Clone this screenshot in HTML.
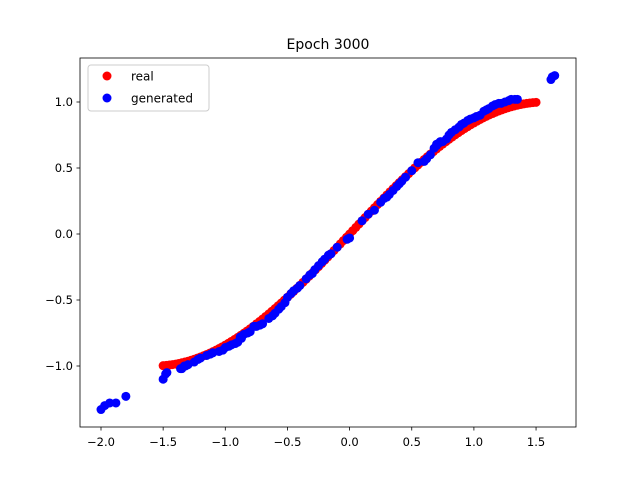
<!DOCTYPE html>
<html><head><meta charset="utf-8"><style>
body{margin:0;background:#fff}
svg text{font-family:"DejaVu Sans","Liberation Sans",sans-serif;fill:#000}
</style></head><body>
<svg id="chart" width="640" height="480">
<rect x="0" y="0" width="640" height="480" fill="#fff"/>
<text x="328" y="49" font-size="14" text-anchor="middle">Epoch 3000</text>
<g id="real"></g>
<g id="gen"></g>
<g id="axes"></g>
<rect x="80" y="58" width="496" height="369" fill="none" stroke="#000" stroke-width="0.8"/>
<g>
<rect x="88" y="65" width="121" height="46" rx="3" fill="#fff" fill-opacity="0.8" stroke="#ccc"/>
<circle cx="107" cy="76" r="4.5" fill="red"/>
<text x="131" y="80.5" font-size="12">real</text>
<circle cx="107" cy="98" r="4.5" fill="blue"/>
<text x="131" y="102.5" font-size="12">generated</text>
</g>
</svg>
<script>
const realX=[-1.5,-1.45,-1.4,-1.35,-1.3,-1.25,-1.2,-1.15,-1.1,-1.05,-1.0,-0.95,-0.9,-0.85,-0.8,-0.75,-0.7,-0.65,-0.6,-0.55,-0.5,-0.45,-0.4,-0.35,-0.3,-0.25,-0.2,-0.15,-0.1,-0.05,0,0.05,0.1,0.15,0.2,0.25,0.3,0.35,0.4,0.45,0.5,0.55,0.6,0.65,0.7,0.75,0.8,0.85,0.9,0.95,1.0,1.05,1.1,1.15,1.2,1.25,1.3,1.35,1.4,1.45,1.5,
0.025,0.075,0.125,0.175,0.225,0.275,0.325,0.375,0.425,0.475,0.525,0.575,0.625,0.675,0.725,0.775,0.825,0.875,0.925,0.975,1.025,1.075,1.125,1.175,1.225,1.275,1.325,1.375,1.425,1.475,
-0.025,-0.075,-0.125,-0.175,-0.225,-0.275,-0.325,-0.375,-0.425,-0.475,-0.525,-0.575,-0.625,-0.675,-0.725,-0.775,-0.825,-0.875,-0.925,-0.975,-1.025,-1.075,-1.125,-1.175,-1.225,-1.275,-1.325,-1.375,-1.425,-1.475];
const realY=[-0.9975,-0.9927,-0.9854,-0.9757,-0.9636,-0.949,-0.932,-0.9128,-0.8912,-0.8674,-0.8415,-0.8134,-0.7833,-0.7513,-0.7174,-0.6816,-0.6442,-0.6052,-0.5646,-0.5227,-0.4794,-0.435,-0.3894,-0.3429,-0.2955,-0.2474,-0.1987,-0.1494,-0.0998,-0.05,0,0.05,0.0998,0.1494,0.1987,0.2474,0.2955,0.3429,0.3894,0.435,0.4794,0.5227,0.5646,0.6052,0.6442,0.6816,0.7174,0.7513,0.7833,0.8134,0.8415,0.8674,0.8912,0.9128,0.932,0.949,0.9636,0.9757,0.9854,0.9927,0.9975,
0.025,0.0749,0.1247,0.1741,0.2231,0.2715,0.3193,0.3663,0.4123,0.4573,0.5012,0.5438,0.5851,0.6249,0.6632,0.6997,0.7344,0.7675,0.7985,0.8277,0.8549,0.8799,0.9028,0.9227,0.9408,0.9567,0.97,0.9809,0.9894,0.9955,
-0.025,-0.0749,-0.1247,-0.1741,-0.2231,-0.2715,-0.3193,-0.3663,-0.4123,-0.4573,-0.5012,-0.5438,-0.5851,-0.6249,-0.6632,-0.6997,-0.7344,-0.7675,-0.7985,-0.8277,-0.8549,-0.8799,-0.9028,-0.9227,-0.9408,-0.9567,-0.97,-0.9809,-0.9894,-0.9955];
const genX=[-2.0,-1.97,-1.93,-1.88,-1.8,-1.5,-1.48,-1.47,-1.35,-1.33,-1.3,-1.25,-1.2,-1.15,-1.1,-1.05,-1.0,-0.95,-0.9,-0.88,-0.85,-0.8,-0.77,-0.7,-0.65,-0.6,-0.55,-0.5,-0.45,-0.4,-0.35,-0.3,-0.28,-0.25,-0.2,-0.15,-0.1,-0.02,0.0,0.1,0.15,0.2,0.25,0.3,0.35,0.4,0.45,0.5,0.55,0.6,0.65,0.7,0.72,0.75,0.8,0.85,0.9,0.95,1.0,1.05,1.1,1.15,1.2,1.25,1.3,1.35,1.62,1.65,
-1.36,-1.32,-1.22,-1.12,-1.02,-0.97,-0.92,-0.87,-0.82,-0.75,-0.72,-0.62,-0.57,-0.52,-0.47,-0.42,-0.32,-0.22,-0.17,0.28,0.32,0.38,0.42,0.62,0.68,0.7,0.73,0.78,0.82,0.88,0.92,0.97,1.02,1.08,1.12,1.17,1.22,1.28,1.33,1.63];
const genY=[-1.33,-1.3,-1.28,-1.28,-1.23,-1.1,-1.06,-1.05,-1.02,-1.0,-0.99,-0.97,-0.94,-0.92,-0.9,-0.89,-0.86,-0.84,-0.82,-0.78,-0.76,-0.74,-0.7,-0.68,-0.64,-0.6,-0.55,-0.48,-0.43,-0.39,-0.34,-0.3,-0.27,-0.24,-0.19,-0.15,-0.1,-0.04,-0.03,0.1,0.15,0.18,0.24,0.28,0.33,0.38,0.43,0.48,0.54,0.55,0.6,0.67,0.69,0.7,0.75,0.79,0.83,0.86,0.88,0.9,0.94,0.97,0.99,1.0,1.02,1.02,1.17,1.2,
-1.02,-1.0,-0.95,-0.91,-0.88,-0.85,-0.83,-0.79,-0.75,-0.7,-0.69,-0.62,-0.57,-0.52,-0.45,-0.41,-0.31,-0.21,-0.16,0.27,0.3,0.36,0.4,0.57,0.65,0.68,0.7,0.72,0.77,0.81,0.84,0.87,0.89,0.93,0.95,0.98,0.99,1.01,1.02,1.19];
const xTicks=[-2.0,-1.5,-1.0,-0.5,0.0,0.5,1.0,1.5];
const yTicks=[-1.0,-0.5,0.0,0.5,1.0];
const sx=v=>349.6+v*124.3, sy=v=>234-v*132;
const NS="http://www.w3.org/2000/svg";
function dots(gid,xs,ys,col,name){const g=document.getElementById(gid);
xs.forEach((x,i)=>{const c=document.createElementNS(NS,'circle');
c.setAttribute('cx',sx(x));c.setAttribute('cy',sy(ys[i]));c.setAttribute('r',4.5);c.setAttribute('fill',col);


g.appendChild(c);});}
dots('real',realX,realY,'red','real-point');
dots('gen',genX,genY,'blue','generated-point');
const ax=document.getElementById('axes');
const fmt=v=>(v<0?'\u2212':'')+Math.abs(v).toFixed(1);
xTicks.forEach(v=>{const x=sx(v);
const l=document.createElementNS(NS,'line');l.setAttribute('x1',x);l.setAttribute('x2',x);l.setAttribute('y1',427);l.setAttribute('y2',430.5);l.setAttribute('stroke','#000');l.setAttribute('stroke-width','0.8');


ax.appendChild(l);
const t=document.createElementNS(NS,'text');t.setAttribute('x',x);t.setAttribute('y',446);t.setAttribute('font-size','11.5');t.setAttribute('text-anchor','middle');t.textContent=fmt(v);


ax.appendChild(t);});
yTicks.forEach(v=>{const y=sy(v);
const l=document.createElementNS(NS,'line');l.setAttribute('x1',76.5);l.setAttribute('x2',80);l.setAttribute('y1',y);l.setAttribute('y2',y);l.setAttribute('stroke','#000');l.setAttribute('stroke-width','0.8');


ax.appendChild(l);
const t=document.createElementNS(NS,'text');t.setAttribute('x',73);t.setAttribute('y',y+4);t.setAttribute('font-size','11.5');t.setAttribute('text-anchor','end');t.textContent=fmt(v);


ax.appendChild(t);});
</script>
</body></html>
